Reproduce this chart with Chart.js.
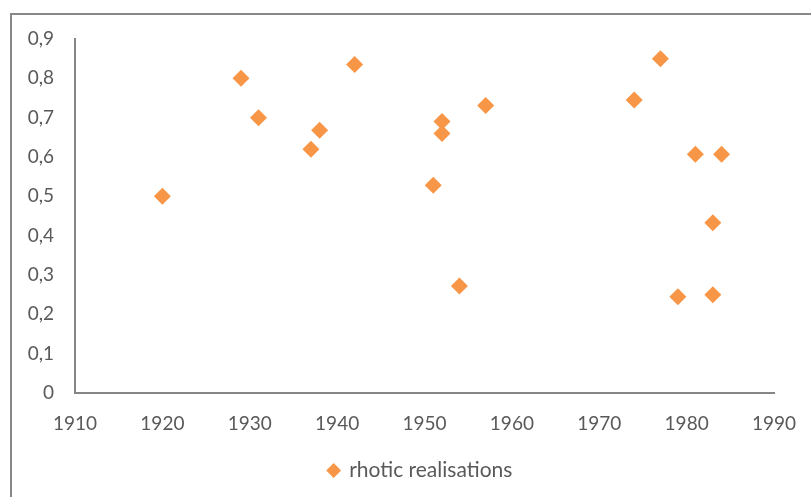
<!DOCTYPE html>
<html>
<head>
<meta charset="utf-8">
<script src="https://cdn.jsdelivr.net/npm/chart.js@4.4.0/dist/chart.umd.min.js"></script>
<style>
    body { margin: 0; background: #fff; overflow: hidden; }
    #frame {
        position: absolute; left: 10px; top: 13px;
        width: 1000px; height: 1000px;
        border: 2px solid #888;
    }
    #myChart { position: absolute; left: 0; top: 0; }
</style>
</head>
<body>
<div id="frame"></div>
<!-- canvas a bit wider than the window: the original legend sits right of centre -->
<canvas id="myChart" width="841" height="497"></canvas>
<script>
const seriesName = "rhotic realisations";
const years = [1920, 1929, 1931, 1937, 1938, 1942, 1951, 1952, 1952, 1954, 1957, 1974, 1977, 1979, 1981, 1983, 1983, 1984];
const values = [0.50, 0.80, 0.70, 0.62, 0.668, 0.835, 0.528, 0.69, 0.66, 0.272, 0.731, 0.745, 0.85, 0.245, 0.607, 0.25, 0.433, 0.607];
const xTicks = [1910, 1920, 1930, 1940, 1950, 1960, 1970, 1980, 1990];
const yTicks = [0, 0.1, 0.2, 0.3, 0.4, 0.5, 0.6, 0.7, 0.8, 0.9];
const yTickLabels = ["0", "0,1", "0,2", "0,3", "0,4", "0,5", "0,6", "0,7", "0,8", "0,9"];

let chart;

function initChart() {
    const ctx = document.getElementById("myChart").getContext("2d");
    const points = years.map((y, i) => ({ x: y, y: values[i] }));
    chart = new Chart(ctx, {
        type: "scatter",
        data: {
            datasets: [{
                label: seriesName,
                data: points,
                pointStyle: "rectRot",
                pointRadius: 8.5,
                pointHoverRadius: 8.5,
                backgroundColor: "#F79646",
                borderColor: "#F79646",
                borderWidth: 0
            }]
        },
        options: {
            responsive: false,
            animation: false,
            layout: {
                padding: { left: 0, right: 0, top: 39, bottom: 6 }
            },
            scales: {
                x: {
                    type: "linear",
                    min: 1910,
                    max: 1990,
                    afterBuildTicks: axis => { axis.ticks = xTicks.map(v => ({ value: v })); },
                    afterFit: axis => { axis.height = 57; axis.paddingRight = 67; },
                    grid: { display: false },
                    border: { display: true, color: "#868686", width: 2 },
                    ticks: {
                        color: "#595959",
                        font: { family: "Lato", size: 19 },
                        padding: 11,
                        maxRotation: 0,
                        callback: v => String(v)
                    }
                },
                y: {
                    min: 0,
                    max: 0.9,
                    afterBuildTicks: axis => { axis.ticks = yTicks.map(v => ({ value: v })); },
                    afterFit: axis => { axis.width = 75; },
                    grid: { display: false },
                    border: { display: true, color: "#868686", width: 2 },
                    ticks: {
                        color: "#595959",
                        font: { family: "Lato", size: 19 },
                        padding: 13,
                        callback: (v, i) => yTickLabels[i]
                    }
                }
            },
            plugins: {
                legend: {
                    position: "bottom",
                    labels: {
                        usePointStyle: true,
                        pointStyle: "rectRot",
                        boxWidth: 10,
                        boxHeight: 10.5,
                        color: "#595959",
                        font: { family: "Lato", size: 21 },
                        padding: 10
                    }
                },
                tooltip: { enabled: false }
            }
        }
    });
}

document.addEventListener("DOMContentLoaded", function() {
    initChart();
});
</script>
</body>
</html>
